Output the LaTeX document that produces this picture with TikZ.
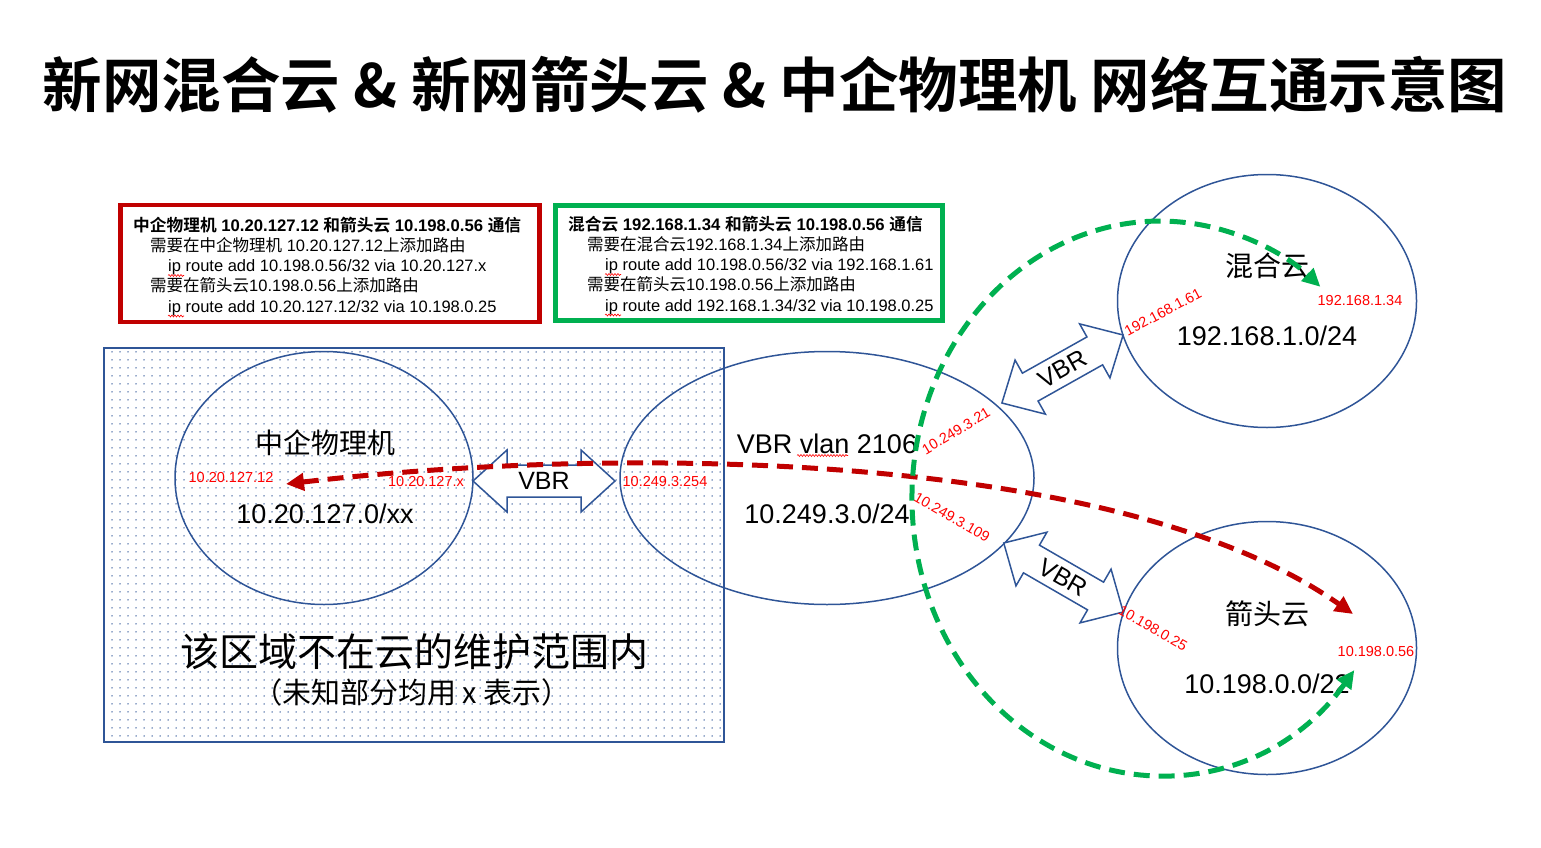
\documentclass[tikz,border=0pt]{standalone}
\usepackage{fontspec}
\setmainfont{Liberation Sans}
\newfontfamily\cjk{Noto Sans CJK SC}[BoldFont={Noto Sans CJK SC Bold}]
\usetikzlibrary{arrows.meta,patterns.meta,decorations.pathmorphing,shapes.geometric}
\definecolor{boxred}{HTML}{C00000}
\definecolor{boxgreen}{HTML}{00B050}
\definecolor{lineblue}{HTML}{2F5597}
\definecolor{lblred}{HTML}{FF0000}
\newcommand\C[1]{{\cjk #1}}
\newcommand\fsz[1]{\fontsize{#1}{#1}\selectfont}
\begin{document}
\begin{tikzpicture}[x=1pt,y=-1pt,
  netellipse/.style={ellipse, draw=lineblue, line width=1.5pt, minimum width=#1, minimum height=253pt, inner sep=0pt},
  iplabel/.style={text=lblred, font=\fsz{14.5}, inner sep=0pt},
  bigtext/.style={font=\fsz{27}, inner sep=0pt},
  cjktext/.style={font=\cjk\fsz{28}, inner sep=0pt},
  notebox/.style={line width=4.5pt},
  noteline/.style={anchor=base west, inner sep=0pt, font=\fsz{16.5}},
  spellmark/.style={draw=lblred, line width=0.6pt, decorate, decoration={snake, amplitude=1pt, segment length=3pt}},
  redflow/.style={draw=boxred, line width=5pt, dash pattern=on 16pt off 9pt, {Triangle[length=18pt,width=17pt]}-{Triangle[length=18pt,width=17pt]}},
  greenflow/.style={draw=boxgreen, line width=5pt, dash pattern=on 16pt off 9pt, {Triangle[length=18pt,width=17pt]}-{Triangle[length=18pt,width=17pt]}},
  vbrarrow/.style={draw=lineblue, fill=white, line width=1.5pt, line join=miter},
  vbrtext/.style={font=\fsz{25}, inner sep=0pt}
]
\useasboundingbox (0,0) rectangle (1541,848);

% title
\node[font=\cjk\bfseries\fsz{59.5}, inner sep=0pt] (title) at (775,85) {新网混合云 \& 新网箭头云 \& 中企物理机 网络互通示意图};

% note boxes
\draw[notebox, draw=boxred] (120.5,205) rectangle (539.5,322);
\node[noteline, font=\bfseries\fsz{16.7}] (r1) at (133,231) {\C{中企物理机} 10.20.127.12 \C{和箭头云} 10.198.0.56 \C{通信}};
\node[noteline] (r2) at (150,251) {\C{需要在中企物理机} 10.20.127.12\C{上添加路由}};
\node[noteline] (r3) at (168,271.5) {ip route add 10.198.0.56/32 via 10.20.127.x};
\node[noteline] (r4) at (150,291.5) {\C{需要在箭头云}10.198.0.56\C{上添加路由}};
\node[noteline] (r5) at (168,312) {ip route add 10.20.127.12/32 via 10.198.0.25};
\draw[spellmark] (168,275.5) -- (184,275.5);
\draw[spellmark] (168,316) -- (184,316);

\draw[notebox, draw=boxgreen] (555.5,205.5) rectangle (942.5,320.5);
\node[noteline, font=\bfseries\fsz{16.7}] (g1) at (568,230) {\C{混合云} 192.168.1.34 \C{和箭头云} 10.198.0.56 \C{通信}};
\node[noteline] (g2) at (587,250) {\C{需要在混合云}192.168.1.34\C{上添加路由}};
\node[noteline] (g3) at (605,270.5) {ip route add 10.198.0.56/32 via 192.168.1.61};
\node[noteline] (g4) at (587,290.5) {\C{需要在箭头云}10.198.0.56\C{上添加路由}};
\node[noteline] (g5) at (605,311) {ip route add 192.168.1.34/32 via 10.198.0.25};
\draw[spellmark] (605,274.5) -- (621,274.5);
\draw[spellmark] (605,315) -- (621,315);

% dotted region
\draw[draw=lineblue, line width=1.5pt, pattern={Dots[distance=8pt, radius=0.75pt]}, pattern color=lineblue] (104,348) rectangle (724,742);
\node[font=\cjk\fsz{39}, inner sep=0pt] (outside) at (414,652) {该区域不在云的维护范围内};
\node[font=\cjk\fsz{29}, inner sep=0pt] (unknown) at (412,692) {（未知部分均用 x 表示）};

% network ellipses
\node[netellipse=298pt] (zq) at (324,478) {};
\node[netellipse=414pt] (vbr) at (827,478) {};
\node[netellipse=299pt] (hh) at (1267,301) {};
\node[netellipse=299pt] (jt) at (1267,648) {};

% VBR block arrows
\begin{scope}[shift={(544,481)}]
  \draw[vbrarrow] (-71,0) -- (-37,-31) -- (-37,-16) -- (37,-16) -- (37,-31) -- (71,0) -- (37,31) -- (37,16) -- (-37,16) -- (-37,31) -- cycle;
  \node[vbrtext] (vbr1) at (0,0) {VBR};
\end{scope}
\begin{scope}[shift={(1062.5,369)}, rotate=29.3]
  \draw[vbrarrow] (-69.5,0) -- (-37,-31) -- (-37,-16) -- (37,-16) -- (37,-31) -- (69.5,0) -- (37,31) -- (37,16) -- (-37,16) -- (-37,31) -- cycle;
  \node[vbrtext, rotate=29.3] (vbr2) at (0,0) {VBR};
\end{scope}
\begin{scope}[shift={(1063.5,577.5)}, rotate=-30]
  \draw[vbrarrow] (-69,0) -- (-37,-31) -- (-37,-16) -- (37,-16) -- (37,-31) -- (69,0) -- (37,31) -- (37,16) -- (-37,16) -- (-37,31) -- cycle;
  \node[vbrtext, rotate=-30] (vbr3) at (0,0) {VBR};
\end{scope}

% texts in ellipses
\node[cjktext] (zqname) at (325,443) {中企物理机};
\node[bigtext] (zqnet) at (325,514) {10.20.127.0/xx};
\node[bigtext] (vbrname) at (827,444) {VBR vlan 2106};
\draw[spellmark] (797,455.5) -- (848,455.5);
\node[bigtext] (vbrnet) at (827,514) {10.249.3.0/24};
\node[cjktext] (hhname) at (1267,266) {混合云};
\node[bigtext] (hhnet) at (1267,336) {192.168.1.0/24};
\node[cjktext] (jtname) at (1267,614) {箭头云};
\node[bigtext] (jtnet) at (1267,684) {10.198.0.0/22};

% ip labels
\node[iplabel] (ip1) at (231,478) {10.20.127.12};
\node[iplabel] (ip2) at (426,482) {10.20.127.x};
\node[iplabel] (ip3) at (665,482) {10.249.3.254};
\node[iplabel, rotate=31] (ip4) at (956,431) {10.249.3.21};
\node[iplabel, rotate=-30] (ip5) at (952,517) {10.249.3.109};
\node[iplabel, rotate=28] (ip6) at (1163,312) {192.168.1.61};
\node[iplabel] (ip7) at (1360,301) {192.168.1.34};
\node[iplabel, rotate=-30] (ip8) at (1153,628) {10.198.0.25};
\node[iplabel] (ip9) at (1376,652) {10.198.0.56};

% flows
\coordinate (redL) at (286,484);
\coordinate (redR) at (1353,614);
\draw[redflow] (redL) .. controls (620,445) and (1120,450) .. (redR);

\coordinate (gB) at (1354.3,670.1);
\draw[greenflow] (gB) arc[start angle=38.4, end angle=310.3, x radius=248, y radius=277];
\end{tikzpicture}
\end{document}
